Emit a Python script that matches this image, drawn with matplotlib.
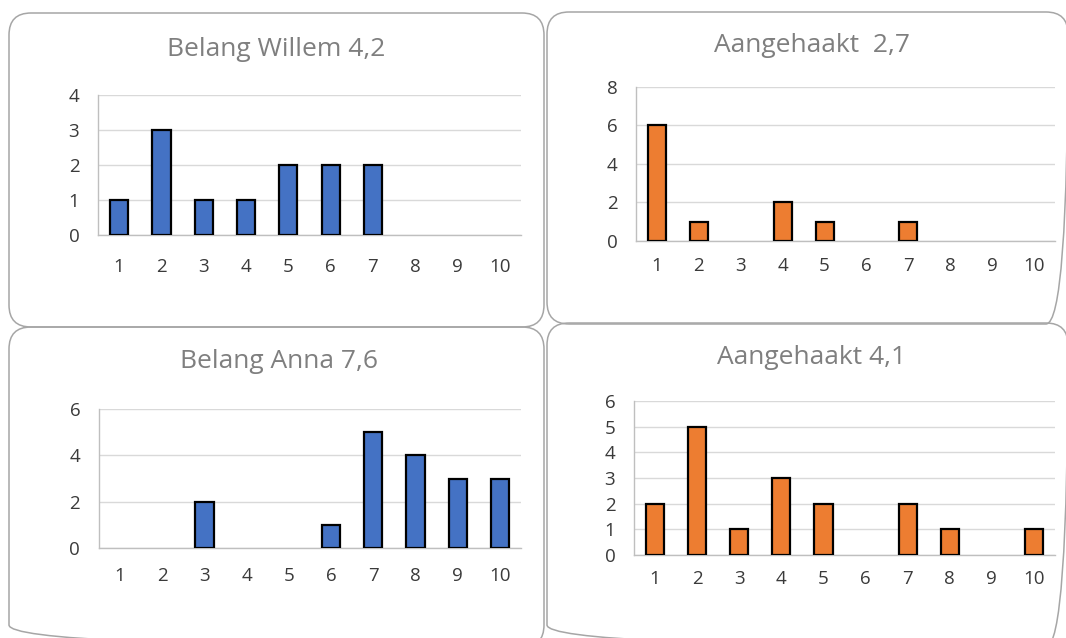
import numpy as np
import matplotlib
matplotlib.use("Agg")
from matplotlib import pyplot as plt
from matplotlib.patches import FancyBboxPatch

plt.rcParams['font.family'] = ['Open Sans', 'DejaVu Sans']

# scores 1..10, count per score
scores = list(range(1, 11))
willem = [1, 3, 1, 1, 2, 2, 2, 0, 0, 0]
aangehaakt_1 = [6, 1, 0, 2, 1, 0, 1, 0, 0, 0]
anna = [0, 0, 2, 0, 0, 1, 5, 4, 3, 3]
aangehaakt_2 = [2, 5, 1, 3, 2, 0, 2, 1, 0, 1]

titles = ["Belang Willem 4,2", "Aangehaakt  2,7", "Belang Anna 7,6", "Aangehaakt 4,1"]

BLUE = "#4472C4"
ORANGE = "#ED7D31"
W, H = 1066, 638

fig = plt.figure(figsize=(W / 100, H / 100), dpi=100)
fig.patch.set_facecolor("white")

# background layer in pixel units for the rounded chart boxes
bg = fig.add_axes([0, 0, 1, 1], zorder=-1)
bg.set_xlim(0, W)
bg.set_ylim(H, 0)
bg.axis("off")
boxes = [(9, 13, 535, 314), (547, 12, 521, 312), (9, 327, 535, 320), (547, 323, 521, 324)]
for bx, by, bw, bh in boxes:
    bg.add_patch(FancyBboxPatch((bx, by), bw, bh, boxstyle="round,pad=0,rounding_size=22",
                                facecolor="none", edgecolor="#a6a6a6", linewidth=1.1))

# (x0, x1, ytop, ybottom) in pixels, ymax, ystep, xlabel pad, title pos
panels = [
    (willem, BLUE, (98, 521, 95, 235), 4, 1, 16.5, (276, 50)),
    (aangehaakt_1, ORANGE, (636, 1055, 87, 241), 8, 2, 11.5, (812, 45)),
    (anna, BLUE, (99, 521, 409, 548), 6, 2, 13.5, (279, 362)),
    (aangehaakt_2, ORANGE, (634, 1055, 401, 555), 6, 1, 11.0, (812, 357)),
]

for (vals, col, (x0, x1, yt, yb), ymax, ystep, xpad, (tx, ty)), title in zip(panels, titles):
    ax = fig.add_axes([x0 / W, 1 - yb / H, (x1 - x0) / W, (yb - yt) / H])
    v = np.array(vals)
    s = np.array(scores)
    m = v > 0
    ax.bar(s[m], v[m], width=0.43, color=col, edgecolor="black", linewidth=1.6, zorder=3)
    ax.set_xlim(0.5, 10.5)
    ax.set_ylim(0, ymax)
    ax.set_xticks(scores)
    ax.set_yticks(np.arange(0, ymax + 1, ystep))
    ax.set_axisbelow(True)
    ax.grid(axis="y", color="#d9d9d9", linewidth=1.0)
    for sp in ["top", "right"]:
        ax.spines[sp].set_visible(False)
    for sp in ["left", "bottom"]:
        ax.spines[sp].set_color("#bfbfbf")
        ax.spines[sp].set_linewidth(1.0)
    ax.tick_params(axis="both", length=0, labelsize=13.5, labelcolor="#3a3a3a")
    ax.tick_params(axis="x", pad=xpad)
    ax.tick_params(axis="y", pad=13.5)
    ax.set_facecolor("none")
    fig.text(tx / W, 1 - ty / H, title, ha="center", va="center", fontsize=19, color="#7f7f7f")

plt.savefig("out.png", dpi=100)
plt.close()
